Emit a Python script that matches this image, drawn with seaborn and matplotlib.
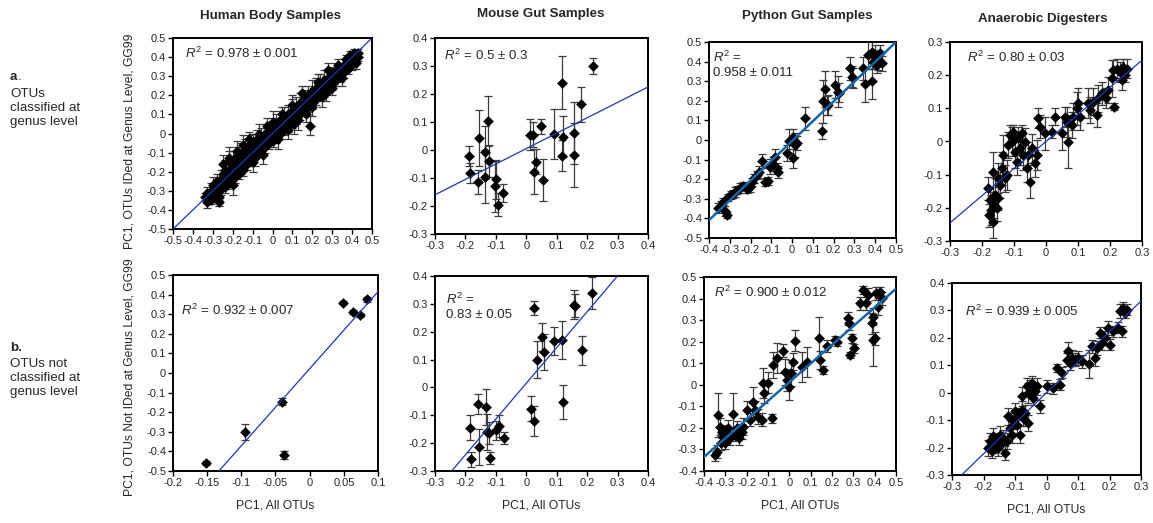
import numpy as np
import pandas as pd
import matplotlib
matplotlib.use("Agg")
import matplotlib.pyplot as plt
import seaborn as sns

# ---------------------------------------------------------------------------
# Data (x = PC1 all OTUs, y = PC1 subset, err = +/-)
# ---------------------------------------------------------------------------

# a. Human body samples (dense band, approximate)
hb_a_x = [-0.34, -0.33, -0.33, -0.32, -0.31, -0.31, -0.30, -0.30, -0.29, -0.29,
          -0.28, -0.28, -0.27, -0.27, -0.26, -0.26, -0.25, -0.25, -0.24, -0.24,
          -0.23, -0.23, -0.22, -0.22, -0.21, -0.21, -0.20, -0.20, -0.19, -0.19,
          -0.18, -0.18, -0.17, -0.17, -0.16, -0.16, -0.15, -0.15, -0.14, -0.14,
          -0.13, -0.13, -0.12, -0.12, -0.11, -0.11, -0.10, -0.10, -0.09, -0.09,
          -0.08, -0.08, -0.07, -0.06, -0.06, -0.05, -0.04, -0.04, -0.03, -0.02,
          -0.02, -0.01, 0.00, 0.00, 0.01, 0.02, 0.02, 0.03, 0.04, 0.04,
          0.05, 0.06, 0.06, 0.07, 0.08, 0.08, 0.09, 0.10, 0.10, 0.11,
          0.12, 0.12, 0.13, 0.14, 0.14, 0.15, 0.16, 0.16, 0.17, 0.18,
          0.18, 0.19, 0.19, 0.20, 0.20, 0.21, 0.22, 0.22, 0.23, 0.24,
          0.24, 0.25, 0.26, 0.26, 0.27, 0.28, 0.28, 0.29, 0.30, 0.30,
          0.31, 0.32, 0.32, 0.33, 0.34, 0.34, 0.35, 0.36, 0.36, 0.37,
          0.38, 0.38, 0.39, 0.40, 0.40, 0.41, 0.42, 0.42, 0.43, 0.43,
          0.41, 0.39, 0.37,
          -0.25, -0.22, -0.18, -0.15, -0.12, -0.10, -0.07, -0.03, 0.00, 0.03,
          0.05, 0.08, 0.10, 0.13, 0.15, 0.20, 0.23, 0.25, 0.28, 0.30,
          0.33, 0.35, -0.27, -0.20, -0.05, 0.11, 0.17, 0.27]
hb_a_y = [-0.33, -0.36, -0.31, -0.34, -0.30, -0.35, -0.32, -0.27, -0.33, -0.29,
          -0.25, -0.31, -0.28, -0.33, -0.24, -0.29, -0.26, -0.21, -0.28, -0.19,
          -0.23, -0.26, -0.20, -0.15, -0.24, -0.18, -0.21, -0.14, -0.17, -0.23,
          -0.12, -0.19, -0.15, -0.21, -0.10, -0.17, -0.13, -0.19, -0.08, -0.15,
          -0.11, -0.16, -0.06, -0.13, -0.09, -0.14, -0.05, -0.11, -0.08, -0.13,
          -0.03, -0.09, -0.06, -0.02, -0.09, -0.04, 0.00, -0.07, -0.02, 0.02,
          -0.05, -0.01, 0.03, -0.04, 0.01, 0.05, -0.02, 0.02, 0.07, 0.00,
          0.04, 0.09, 0.02, 0.06, 0.10, 0.04, 0.08, 0.12, 0.06, 0.10,
          0.14, 0.08, 0.12, 0.16, 0.10, 0.14, 0.18, 0.12, 0.16, 0.20,
          0.14, 0.04, 0.18, 0.22, 0.16, 0.20, 0.24, 0.18, 0.22, 0.26,
          0.20, 0.24, 0.28, 0.22, 0.26, 0.29, 0.24, 0.27, 0.31, 0.26,
          0.29, 0.33, 0.28, 0.31, 0.34, 0.30, 0.33, 0.36, 0.32, 0.35,
          0.38, 0.34, 0.37, 0.40, 0.36, 0.39, 0.41, 0.37, 0.40, 0.42,
          0.42, 0.41, 0.39,
          -0.16, -0.13, -0.09, -0.06, -0.03, -0.15, 0.00, 0.04, 0.06, -0.03,
          0.10, 0.02, 0.15, 0.07, 0.21, 0.14, 0.27, 0.19, 0.33, 0.24,
          0.36, 0.29, -0.36, -0.27, -0.11, 0.05, 0.10, 0.21]
hb_a_err = [0.02, 0.03, 0.03, 0.02, 0.04, 0.02, 0.03, 0.04, 0.02, 0.03,
            0.04, 0.03, 0.03, 0.02, 0.05, 0.03, 0.03, 0.05, 0.03, 0.05,
            0.04, 0.03, 0.04, 0.06, 0.03, 0.04, 0.04, 0.05, 0.04, 0.03,
            0.05, 0.03, 0.04, 0.03, 0.05, 0.04, 0.04, 0.03, 0.05, 0.04,
            0.04, 0.03, 0.05, 0.04, 0.04, 0.03, 0.05, 0.04, 0.03, 0.04,
            0.05, 0.03, 0.04, 0.05, 0.03, 0.04, 0.05, 0.03, 0.04, 0.04,
            0.03, 0.04, 0.05, 0.03, 0.04, 0.05, 0.03, 0.04, 0.05, 0.03,
            0.04, 0.05, 0.03, 0.04, 0.05, 0.03, 0.04, 0.06, 0.03, 0.04,
            0.05, 0.03, 0.04, 0.05, 0.03, 0.04, 0.05, 0.03, 0.04, 0.05,
            0.03, 0.05, 0.04, 0.06, 0.03, 0.04, 0.05, 0.03, 0.04, 0.05,
            0.03, 0.04, 0.05, 0.03, 0.04, 0.04, 0.03, 0.04, 0.04, 0.03,
            0.03, 0.04, 0.03, 0.03, 0.03, 0.03, 0.03, 0.03, 0.03, 0.03,
            0.02, 0.03, 0.02, 0.02, 0.03, 0.02, 0.02, 0.03, 0.02, 0.02,
            0.02, 0.02, 0.02,
            0.05, 0.06, 0.05, 0.05, 0.04, 0.05, 0.05, 0.04, 0.06, 0.05,
            0.04, 0.05, 0.05, 0.05, 0.04, 0.05, 0.04, 0.05, 0.04, 0.04,
            0.03, 0.04, 0.02, 0.05, 0.05, 0.05, 0.04, 0.04]

# a. Mouse gut samples
mg_a_x = [-0.187, -0.185, -0.157, -0.160, -0.135, -0.127, -0.136, -0.123, -0.101, -0.103,
          -0.094, -0.077, 0.012, 0.023, 0.025, 0.033, 0.050, 0.056, 0.090, 0.117,
          0.120, 0.118, 0.156, 0.158, 0.180, 0.220]
mg_a_y = [-0.022, -0.082, 0.043, -0.115, -0.008, 0.103, -0.095, -0.040, -0.105, -0.130,
          -0.195, -0.153, 0.055, 0.055, -0.078, -0.042, 0.084, -0.108, 0.058, 0.240,
          0.048, -0.020, 0.060, -0.018, 0.163, 0.300]
mg_a_err = [0.036, 0.036, 0.100, 0.042, 0.095, 0.090, 0.095, 0.057, 0.070, 0.090,
            0.040, 0.032, 0.055, 0.045, 0.080, 0.045, 0.028, 0.075, 0.090, 0.095,
            0.072, 0.055, 0.110, 0.115, 0.063, 0.030]

# a. Python gut samples
py_a_x = [-0.355, -0.344, -0.331, -0.323, -0.315, -0.307, -0.296, -0.283, -0.275, -0.263,
          -0.250, -0.237, -0.218, -0.205, -0.194, -0.182, -0.170, -0.157, -0.144, -0.130,
          -0.114, -0.106, -0.093, -0.084, -0.074, -0.066, -0.026, -0.013, 0.003, 0.014,
          0.022, 0.003, 0.062, 0.146, 0.150, 0.160, 0.166, 0.174, 0.207, 0.220,
          0.228, 0.279, 0.287, 0.295, 0.340, 0.351, 0.383, 0.367, 0.383, 0.399,
          0.415, 0.424, 0.432, 0.407, 0.391]
py_a_y = [-0.347, -0.335, -0.314, -0.364, -0.382, -0.293, -0.280, -0.277, -0.264, -0.255,
          -0.243, -0.234, -0.250, -0.238, -0.213, -0.196, -0.179, -0.162, -0.107, -0.213,
          -0.208, -0.136, -0.124, -0.085, -0.145, -0.162, -0.065, -0.005, 0.017, -0.026,
          -0.017, -0.094, 0.110, 0.046, 0.197, 0.260, 0.177, 0.180, 0.282, 0.247,
          0.242, 0.366, 0.323, 0.315, 0.366, 0.285, 0.301, 0.434, 0.451, 0.426,
          0.408, 0.443, 0.391, 0.383, 0.400]
py_a_err = [0.025, 0.025, 0.020, 0.025, 0.015, 0.020, 0.020, 0.020, 0.025, 0.020,
            0.025, 0.020, 0.020, 0.025, 0.020, 0.025, 0.020, 0.030, 0.035, 0.020,
            0.020, 0.040, 0.035, 0.040, 0.030, 0.030, 0.040, 0.060, 0.040, 0.060,
            0.035, 0.050, 0.060, 0.040, 0.110, 0.090, 0.050, 0.050, 0.070, 0.080,
            0.050, 0.060, 0.055, 0.050, 0.060, 0.090, 0.090, 0.070, 0.050, 0.060,
            0.050, 0.040, 0.040, 0.040, 0.040]

# a. Anaerobic digesters
ad_a_x = [-0.182, -0.175, -0.177, -0.172, -0.167, -0.161, -0.159, -0.154, -0.151, -0.165,
          -0.149, -0.144, -0.139, -0.133, -0.128, -0.123, -0.118, -0.113, -0.107, -0.102,
          -0.097, -0.092, -0.087, -0.081, -0.076, -0.071, -0.066, -0.060, -0.055, -0.050,
          -0.045, -0.034, -0.029, -0.024, -0.019, -0.003, 0.018, 0.028, 0.049, 0.059,
          0.065, 0.070, 0.080, 0.085, 0.096, 0.101, 0.106, 0.132, 0.137, 0.148,
          0.158, 0.164, 0.174, 0.189, 0.195, 0.205, 0.214, 0.210, 0.221, 0.231,
          0.242, 0.247, 0.252, 0.236]
ad_a_y = [-0.141, -0.176, -0.222, -0.207, -0.242, -0.191, -0.161, -0.201, -0.171, -0.091,
          -0.111, -0.131, -0.081, -0.041, -0.111, -0.101, -0.011, 0.019, 0.000, 0.030,
          -0.031, -0.061, 0.010, -0.021, 0.025, -0.041, 0.000, -0.081, -0.041, -0.121,
          -0.021, -0.066, -0.041, 0.070, 0.045, 0.025, 0.030, 0.075, 0.025, 0.075,
          0.060, 0.000, 0.050, 0.075, 0.100, 0.115, 0.075, 0.115, 0.095, 0.120,
          0.080, 0.130, 0.145, 0.130, 0.155, 0.190, 0.105, 0.215, 0.220, 0.210,
          0.225, 0.200, 0.220, 0.185]
ad_a_err = [0.035, 0.040, 0.035, 0.045, 0.050, 0.040, 0.050, 0.040, 0.035, 0.060,
            0.045, 0.040, 0.050, 0.060, 0.040, 0.045, 0.040, 0.030, 0.045, 0.020,
            0.050, 0.040, 0.035, 0.050, 0.025, 0.045, 0.040, 0.040, 0.040, 0.050,
            0.045, 0.040, 0.045, 0.030, 0.035, 0.050, 0.020, 0.025, 0.050, 0.030,
            0.045, 0.080, 0.040, 0.040, 0.050, 0.045, 0.040, 0.045, 0.040, 0.040,
            0.035, 0.040, 0.035, 0.030, 0.040, 0.055, 0.010, 0.030, 0.030, 0.030,
            0.025, 0.020, 0.030, 0.030]

# b. Human body samples
hb_b_x = [-0.152, -0.094, -0.041, -0.037, 0.049, 0.063, 0.073, 0.084]
hb_b_y = [-0.459, -0.300, -0.147, -0.417, 0.359, 0.313, 0.296, 0.376]
hb_b_err = [0.008, 0.040, 0.018, 0.020, 0.008, 0.010, 0.010, 0.012]

# b. Mouse gut samples
mg_b_x = [-0.185, -0.158, -0.133, -0.183, -0.155, -0.128, -0.124, -0.120, -0.098, -0.090,
          -0.074, 0.014, 0.025, 0.025, 0.034, 0.052, 0.058, 0.091, 0.119, 0.120,
          0.157, 0.161, 0.183, 0.217]
mg_b_y = [-0.145, -0.060, -0.071, -0.258, -0.214, -0.160, -0.163, -0.253, -0.154, -0.138,
          -0.181, -0.076, -0.120, 0.285, 0.100, 0.181, 0.126, 0.166, 0.169, -0.052,
          0.297, 0.294, 0.133, 0.340]
mg_b_err = [0.045, 0.035, 0.065, 0.027, 0.065, 0.065, 0.040, 0.022, 0.035, 0.040,
            0.022, 0.045, 0.055, 0.025, 0.065, 0.050, 0.065, 0.050, 0.068, 0.060,
            0.052, 0.040, 0.052, 0.057]

# b. Python gut samples
py_b_x = [-0.348, -0.341, -0.333, -0.325, -0.317, -0.309, -0.322, -0.302, -0.294, -0.286,
          -0.278, -0.266, -0.255, -0.247, -0.234, -0.223, -0.216, -0.200, -0.184, -0.169,
          -0.161, -0.145, -0.130, -0.122, -0.119, -0.098, -0.083, -0.078, -0.059, -0.031,
          -0.020, -0.009, 0.000, 0.006, 0.019, 0.027, 0.058, 0.081, 0.139, 0.144,
          0.156, 0.175, 0.214, 0.225, 0.277, 0.280, 0.284, 0.292, 0.303, 0.331,
          0.347, 0.359, 0.370, 0.386, 0.394, 0.402, 0.406, 0.417, 0.425, 0.433,
          0.394]
py_b_y = [-0.325, -0.310, -0.140, -0.194, -0.217, -0.240, -0.271, -0.271, -0.225, -0.202,
          -0.248, -0.135, -0.233, -0.202, -0.248, -0.217, -0.194, -0.117, -0.163, -0.078,
          -0.117, -0.148, -0.163, 0.007, -0.036, 0.010, -0.155, 0.092, 0.123, 0.157,
          0.061, 0.022, -0.009, 0.053, 0.107, 0.205, 0.084, 0.107, 0.216, 0.115,
          0.069, 0.180, 0.208, 0.200, 0.308, 0.285, 0.138, 0.216, 0.169, 0.378,
          0.440, 0.378, 0.417, 0.285, 0.316, 0.216, 0.424, 0.362, 0.432, 0.401,
          0.208]
py_b_err = [0.030, 0.030, 0.100, 0.040, 0.030, 0.035, 0.030, 0.025, 0.030, 0.040,
            0.030, 0.095, 0.030, 0.035, 0.030, 0.035, 0.040, 0.040, 0.030, 0.070,
            0.040, 0.035, 0.030, 0.070, 0.050, 0.050, 0.020, 0.060, 0.070, 0.030,
            0.060, 0.050, 0.060, 0.060, 0.040, 0.050, 0.070, 0.070, 0.100, 0.040,
            0.020, 0.030, 0.020, 0.020, 0.030, 0.030, 0.015, 0.020, 0.020, 0.030,
            0.020, 0.030, 0.030, 0.050, 0.040, 0.030, 0.030, 0.040, 0.020, 0.030,
            0.120]

# b. Anaerobic digesters
ad_b_x = [-0.185, -0.179, -0.174, -0.169, -0.164, -0.158, -0.153, -0.148, -0.142, -0.137,
          -0.132, -0.126, -0.116, -0.110, -0.121, -0.105, -0.100, -0.095, -0.089, -0.084,
          -0.079, -0.074, -0.068, -0.058, -0.077, -0.063, -0.058, -0.052, -0.047, -0.042,
          -0.037, -0.031, -0.021, 0.001, 0.022, 0.032, 0.043, 0.048, 0.064, 0.069,
          0.075, 0.080, 0.090, 0.101, 0.112, 0.135, 0.143, 0.154, 0.159, 0.170,
          0.175, 0.186, 0.196, 0.202, 0.212, 0.228, 0.233, 0.239, 0.244, 0.249,
          0.254]
ad_b_y = [-0.201, -0.177, -0.214, -0.159, -0.189, -0.171, -0.201, -0.153, -0.183, -0.165,
          -0.220, -0.177, -0.129, -0.153, -0.086, -0.104, -0.068, -0.116, -0.086, -0.153,
          -0.062, -0.092, -0.074, -0.110, -0.013, 0.023, -0.001, 0.017, 0.035, -0.019,
          0.005, 0.023, -0.050, 0.023, 0.017, 0.090, 0.029, 0.072, 0.121, 0.151,
          0.108, 0.127, 0.121, 0.127, 0.114, 0.105, 0.169, 0.127, 0.163, 0.218,
          0.181, 0.200, 0.236, 0.175, 0.224, 0.236, 0.297, 0.224, 0.309, 0.291,
          0.303]
ad_b_err = [0.030, 0.030, 0.025, 0.030, 0.030, 0.025, 0.030, 0.030, 0.025, 0.030,
            0.025, 0.030, 0.030, 0.030, 0.030, 0.030, 0.030, 0.030, 0.030, 0.030,
            0.030, 0.030, 0.030, 0.030, 0.035, 0.030, 0.035, 0.030, 0.025, 0.025,
            0.030, 0.030, 0.025, 0.025, 0.020, 0.015, 0.020, 0.020, 0.025, 0.035,
            0.025, 0.030, 0.025, 0.025, 0.025, 0.050, 0.025, 0.030, 0.025, 0.020,
            0.025, 0.025, 0.025, 0.020, 0.020, 0.020, 0.025, 0.020, 0.020, 0.020,
            0.020]

# fitted lines (slope, intercept)
fit_slope = [1.00, 0.55, 1.01, 0.817, 3.93, 1.284, 0.867, 1.114]
fit_icept = [0.000, 0.005, -0.005, 0.000, 0.022, 0.015, 0.012, 0.000]

r2_labels = ["$R^2$ = 0.978 ± 0.001", "$R^2$ = 0.5 ± 0.3", "$R^2$ =\n0.958 ± 0.011",
             "$R^2$ = 0.80 ± 0.03", "$R^2$ = 0.932 ± 0.007", "$R^2$ =\n0.83 ± 0.05",
             "$R^2$ = 0.900 ± 0.012", "$R^2$ = 0.939 ± 0.005"]
col_titles = ["Human Body Samples", "Mouse Gut Samples", "Python Gut Samples",
              "Anaerobic Digesters"]

# ---------------------------------------------------------------------------
# Layout (pixel boxes from the reference, converted to figure fractions)
# ---------------------------------------------------------------------------
W, H = 1153, 523

def box(l, r, t, b):
    return [l / W, 1 - b / H, (r - l) / W, (b - t) / H]

panels = [
    dict(x=hb_a_x, y=hb_a_y, e=hb_a_err, pos=box(173, 372, 38, 229),
         xl=(-0.5, 0.5, 0.1), yl=(-0.5, 0.5, 0.1), txt=(0.06, 0.96)),
    dict(x=mg_a_x, y=mg_a_y, e=mg_a_err, pos=box(435, 648, 38, 234),
         xl=(-0.3, 0.4, 0.1), yl=(-0.3, 0.4, 0.1), txt=(0.04, 0.95)),
    dict(x=py_a_x, y=py_a_y, e=py_a_err, pos=box(709, 896, 42, 238),
         xl=(-0.4, 0.5, 0.1), yl=(-0.5, 0.5, 0.1), txt=(0.02, 0.96)),
    dict(x=ad_a_x, y=ad_a_y, e=ad_a_err, pos=box(950, 1142, 42, 241),
         xl=(-0.3, 0.3, 0.1), yl=(-0.3, 0.3, 0.1), txt=(0.09, 0.96)),
    dict(x=hb_b_x, y=hb_b_y, e=hb_b_err, pos=box(173, 378, 275, 471),
         xl=(-0.2, 0.1, 0.05), yl=(-0.5, 0.5, 0.1), txt=(0.04, 0.86)),
    dict(x=mg_b_x, y=mg_b_y, e=mg_b_err, pos=box(435, 648, 276, 471),
         xl=(-0.3, 0.4, 0.1), yl=(-0.3, 0.4, 0.1), txt=(0.05, 0.92)),
    dict(x=py_b_x, y=py_b_y, e=py_b_err, pos=box(704, 896, 277, 471),
         xl=(-0.4, 0.5, 0.1), yl=(-0.4, 0.5, 0.1), txt=(0.05, 0.96)),
    dict(x=ad_b_x, y=ad_b_y, e=ad_b_err, pos=box(952, 1141, 283, 475),
         xl=(-0.3, 0.3, 0.1), yl=(-0.3, 0.4, 0.1), txt=(0.07, 0.89)),
]

sns.set_style("ticks")
plt.rcParams["font.family"] = ["Liberation Sans", "DejaVu Sans"]
plt.rcParams["mathtext.fontset"] = "custom"
plt.rcParams["mathtext.rm"] = "Liberation Sans"
plt.rcParams["mathtext.it"] = "Liberation Sans:italic"


def tick_fmt(v):
    v = round(v, 2)
    return "0" if abs(v) < 1e-9 else f"{v:g}"


fig = plt.figure(figsize=(W / 100, H / 100), dpi=100)

for i, p in enumerate(panels):
    ax = fig.add_axes(p["pos"])
    df = pd.DataFrame({"x": p["x"], "y": p["y"], "err": p["e"]})
    ax.errorbar(df["x"], df["y"], yerr=df["err"], fmt="none", ecolor="#3c3c3c",
                elinewidth=0.9, capsize=2.8, capthick=0.9, zorder=2)
    sns.scatterplot(data=df, x="x", y="y", ax=ax, marker="D", s=30,
                    color="black", edgecolor="black", linewidth=0, zorder=3)
    is_python = (i % 4 == 2)
    ax.axline((0, fit_icept[i]), slope=fit_slope[i],
              color="#1565a8" if is_python else "#1f36b0",
              lw=1.8 if is_python else 0.9, zorder=4)

    x0, x1, dx = p["xl"]
    y0, y1, dy = p["yl"]
    ax.set_xlim(x0, x1)
    ax.set_ylim(y0, y1)
    xt = np.arange(x0, x1 + dx / 2, dx)
    yt = np.arange(y0, y1 + dy / 2, dy)
    ax.set_xticks(xt)
    ax.set_xticklabels([tick_fmt(v) for v in xt])
    ax.set_yticks(yt)
    ax.set_yticklabels([tick_fmt(v) for v in yt])
    ax.tick_params(labelsize=8, length=3.5, width=1.0, pad=1.5, color="black")
    for s in ax.spines.values():
        s.set_linewidth(1.4)
        s.set_color("black")
    ax.set_xlabel("PC1, All OTUs" if i >= 4 else "", fontsize=8.7, labelpad=8)
    ax.set_ylabel("")
    ax.text(p["txt"][0], p["txt"][1], r2_labels[i], transform=ax.transAxes,
            fontsize=9.5, va="top", ha="left", linespacing=1.2)

# column titles
for xc, yc, t in zip([270, 541, 807, 1043], [16, 14, 16, 19], col_titles):
    fig.text(xc / W, 1 - yc / H, t, fontsize=9.6, fontweight="bold",
             ha="center", va="center")

# shared y labels
fig.text(130 / W, 1 - 141 / H, "PC1, OTUs IDed at Genus Level, GG99",
         rotation=90, fontsize=8.7, ha="center", va="center")
fig.text(130 / W, 1 - 377 / H, "PC1, OTUs Not IDed at Genus Level, GG99",
         rotation=90, fontsize=8.7, ha="center", va="center")

# row labels
fig.text(10 / W, 1 - 77 / H, "a", fontsize=9.6, fontweight="bold", va="center")
fig.text(18 / W, 1 - 77 / H, ".", fontsize=9.6, va="center")
fig.text(10 / W, 1 - 108 / H, "OTUs\nclassified at\ngenus level", fontsize=9.6,
         va="center", linespacing=1.25)
fig.text(10 / W, 1 - 348 / H, "b.", fontsize=9.6, fontweight="bold", va="center")
fig.text(10 / W, 1 - 378 / H, "OTUs not\nclassified at\ngenus level", fontsize=9.6,
         va="center", linespacing=1.25)

fig.savefig("out.png", dpi=100)
plt.close(fig)
